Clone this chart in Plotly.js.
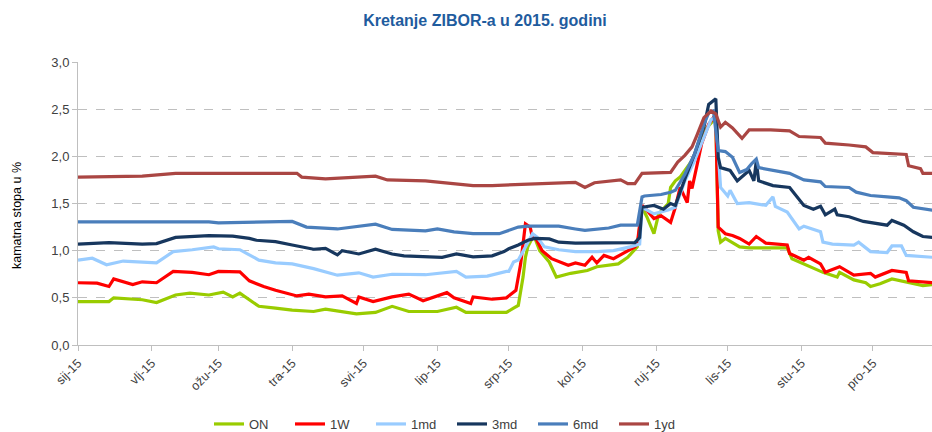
<!DOCTYPE html>
<html>
<head>
<meta charset="utf-8">
<script src="https://cdn.plot.ly/plotly-3.0.1.min.js"></script>
<style>html,body{margin:0;padding:0;background:#fff;}#chart{width:932px;height:432px;}</style>
</head>
<body>
<div id="chart"></div>
<script>
// ---- data ----
var seriesNames = ['ON', '1W', '1md', '3md', '6md', '1yd'];
var monthTicks = ['2015-01-01','2015-02-01','2015-03-01','2015-04-01','2015-05-01','2015-06-01','2015-07-01','2015-08-01','2015-09-01','2015-10-01','2015-11-01','2015-12-01'];
var monthLabels = ['sij-15','vlj-15','ožu-15','tra-15','svi-15','lip-15','srp-15','kol-15','ruj-15','lis-15','stu-15','pro-15'];

var onDates = ['2015-01-01','2015-01-07','2015-01-14','2015-01-16','2015-01-28','2015-02-03','2015-02-11','2015-02-17','2015-02-25','2015-03-03','2015-03-07','2015-03-10','2015-03-18','2015-03-25','2015-04-01','2015-04-10','2015-04-15','2015-04-28','2015-05-06','2015-05-13','2015-05-20','2015-06-01','2015-06-09','2015-06-13','2015-06-30','2015-07-03','2015-07-05','2015-07-07','2015-07-08','2015-07-09','2015-07-11','2015-07-12','2015-07-14','2015-07-18','2015-07-21','2015-07-27','2015-08-03','2015-08-07','2015-08-16','2015-08-20','2015-08-24','2015-08-26','2015-08-28','2015-08-31','2015-09-02','2015-09-06','2015-09-07','2015-09-09','2015-09-11','2015-09-17','2015-09-21','2015-09-25','2015-09-26','2015-09-27','2015-09-28','2015-09-30','2015-10-06','2015-10-10','2015-10-26','2015-10-28','2015-11-02','2015-11-10','2015-11-16','2015-11-17','2015-11-23','2015-11-28','2015-11-30','2015-12-04','2015-12-09','2015-12-15','2015-12-22','2015-12-26'];
var onVals = [0.46,0.46,0.46,0.50,0.48,0.45,0.53,0.55,0.53,0.56,0.51,0.55,0.41,0.39,0.37,0.355,0.38,0.33,0.345,0.41,0.355,0.355,0.40,0.345,0.345,0.39,0.42,0.72,0.93,1.04,1.14,1.13,1.00,0.88,0.72,0.76,0.79,0.83,0.86,0.93,1.04,1.46,1.36,1.18,1.39,1.50,1.67,1.74,1.78,1.99,2.27,2.38,2.38,1.21,1.09,1.13,1.04,1.03,1.03,0.915,0.86,0.77,0.72,0.77,0.69,0.66,0.62,0.65,0.70,0.67,0.63,0.64];

var w1Dates = ['2015-01-01','2015-01-09','2015-01-14','2015-01-16','2015-01-24','2015-01-28','2015-02-03','2015-02-10','2015-02-18','2015-02-25','2015-03-01','2015-03-10','2015-03-14','2015-03-20','2015-03-25','2015-04-03','2015-04-08','2015-04-15','2015-04-22','2015-04-28','2015-04-29','2015-05-05','2015-05-13','2015-05-20','2015-05-26','2015-06-05','2015-06-08','2015-06-15','2015-06-16','2015-06-24','2015-06-30','2015-07-04','2015-07-06','2015-07-08','2015-07-10','2015-07-11','2015-07-12','2015-07-15','2015-07-19','2015-07-26','2015-07-29','2015-08-02','2015-08-05','2015-08-07','2015-08-10','2015-08-14','2015-08-19','2015-08-23','2015-08-24','2015-08-26','2015-08-28','2015-08-31','2015-09-03','2015-09-07','2015-09-09','2015-09-11','2015-09-14','2015-09-15','2015-09-16','2015-09-20','2015-09-23','2015-09-25','2015-09-26','2015-09-27','2015-09-30','2015-10-03','2015-10-06','2015-10-10','2015-10-13','2015-10-17','2015-10-26','2015-10-27','2015-11-02','2015-11-04','2015-11-09','2015-11-11','2015-11-17','2015-11-23','2015-11-30','2015-12-02','2015-12-09','2015-12-15','2015-12-16','2015-12-26'];
var w1Vals = [0.66,0.655,0.62,0.70,0.64,0.67,0.66,0.78,0.77,0.745,0.78,0.775,0.68,0.62,0.58,0.52,0.54,0.51,0.52,0.44,0.51,0.46,0.51,0.54,0.47,0.555,0.50,0.44,0.51,0.485,0.50,0.58,0.86,1.285,1.25,1.13,1.15,1.00,0.915,0.845,0.87,0.845,0.93,0.87,0.95,0.915,0.985,1.04,1.07,1.48,1.43,1.34,1.37,1.30,1.46,1.67,1.51,1.74,1.66,2.13,2.34,2.41,2.36,1.25,1.18,1.16,1.13,1.07,1.15,1.08,1.06,0.97,0.90,0.93,0.86,0.77,0.83,0.74,0.76,0.72,0.79,0.77,0.68,0.66];

var m1Dates = ['2015-01-01','2015-01-07','2015-01-13','2015-01-20','2015-02-03','2015-02-10','2015-02-18','2015-02-27','2015-03-01','2015-03-10','2015-03-18','2015-03-25','2015-04-01','2015-04-10','2015-04-20','2015-04-29','2015-05-05','2015-05-13','2015-05-27','2015-06-09','2015-06-13','2015-06-22','2015-06-30','2015-07-01','2015-07-03','2015-07-05','2015-07-08','2015-07-11','2015-07-13','2015-07-16','2015-07-22','2015-07-29','2015-08-07','2015-08-14','2015-08-21','2015-08-25','2015-08-26','2015-08-31','2015-09-06','2015-09-09','2015-09-13','2015-09-17','2015-09-21','2015-09-24','2015-09-26','2015-09-28','2015-09-29','2015-10-01','2015-10-02','2015-10-05','2015-10-10','2015-10-17','2015-10-20','2015-10-21','2015-10-26','2015-10-31','2015-11-02','2015-11-09','2015-11-10','2015-11-14','2015-11-23','2015-11-25','2015-11-30','2015-12-07','2015-12-09','2015-12-13','2015-12-15','2015-12-26'];
var m1Vals = [0.90,0.92,0.85,0.89,0.87,0.99,1.01,1.04,1.02,1.01,0.90,0.87,0.86,0.81,0.74,0.765,0.72,0.75,0.745,0.78,0.72,0.73,0.78,0.78,0.88,0.90,1.04,1.18,1.14,1.04,1.01,0.99,0.99,1.00,1.04,1.07,1.46,1.39,1.43,1.46,1.74,1.95,2.20,2.39,2.41,1.67,1.64,1.58,1.64,1.50,1.51,1.48,1.57,1.47,1.41,1.23,1.26,1.20,1.09,1.07,1.06,1.09,0.99,0.98,1.05,1.05,0.95,0.93];

var m3Dates = ['2015-01-01','2015-01-14','2015-01-28','2015-02-03','2015-02-11','2015-02-25','2015-03-07','2015-03-14','2015-03-17','2015-03-25','2015-04-01','2015-04-10','2015-04-15','2015-04-20','2015-04-22','2015-04-29','2015-05-06','2015-05-13','2015-05-18','2015-06-03','2015-06-09','2015-06-16','2015-06-24','2015-06-29','2015-07-01','2015-07-05','2015-07-09','2015-07-12','2015-07-18','2015-07-22','2015-07-29','2015-08-12','2015-08-23','2015-08-25','2015-08-26','2015-08-31','2015-09-04','2015-09-07','2015-09-09','2015-09-13','2015-09-17','2015-09-21','2015-09-23','2015-09-26','2015-09-27','2015-09-28','2015-10-02','2015-10-05','2015-10-07','2015-10-10','2015-10-12','2015-10-13','2015-10-14','2015-10-20','2015-10-27','2015-11-02','2015-11-06','2015-11-09','2015-11-11','2015-11-15','2015-11-16','2015-11-21','2015-11-27','2015-12-07','2015-12-09','2015-12-14','2015-12-18','2015-12-22','2015-12-26'];
var m3Vals = [1.07,1.085,1.07,1.075,1.14,1.16,1.155,1.13,1.11,1.095,1.06,1.015,1.025,0.955,1.00,0.965,1.015,0.965,0.945,0.93,0.965,0.935,0.945,0.99,1.02,1.06,1.11,1.13,1.125,1.09,1.08,1.08,1.085,1.14,1.46,1.48,1.44,1.50,1.48,1.76,2.02,2.31,2.55,2.61,1.99,1.88,1.85,1.74,1.78,1.85,1.74,1.95,1.74,1.69,1.67,1.48,1.44,1.47,1.38,1.44,1.38,1.36,1.31,1.27,1.32,1.27,1.20,1.15,1.14];

var m6Dates = ['2015-01-01','2015-02-25','2015-03-01','2015-04-01','2015-04-07','2015-04-20','2015-05-06','2015-05-13','2015-05-27','2015-06-01','2015-06-08','2015-06-16','2015-06-27','2015-07-01','2015-07-05','2015-07-09','2015-07-22','2015-07-29','2015-08-02','2015-08-12','2015-08-17','2015-08-24','2015-08-26','2015-08-27','2015-09-03','2015-09-07','2015-09-09','2015-09-13','2015-09-17','2015-09-21','2015-09-23','2015-09-25','2015-09-27','2015-09-30','2015-10-03','2015-10-06','2015-10-09','2015-10-11','2015-10-13','2015-10-14','2015-10-19','2015-10-27','2015-11-02','2015-11-09','2015-11-11','2015-11-21','2015-11-24','2015-11-30','2015-12-07','2015-12-12','2015-12-15','2015-12-18','2015-12-26'];
var m6Vals = [1.305,1.305,1.295,1.31,1.25,1.23,1.28,1.225,1.21,1.23,1.20,1.18,1.18,1.215,1.25,1.26,1.26,1.23,1.215,1.24,1.27,1.27,1.57,1.58,1.595,1.62,1.64,1.81,2.02,2.34,2.46,2.48,2.06,2.05,1.99,1.83,1.86,1.92,1.97,1.88,1.86,1.82,1.75,1.73,1.68,1.67,1.62,1.585,1.57,1.56,1.53,1.46,1.43];

var y1Dates = ['2015-01-01','2015-01-28','2015-02-11','2015-03-25','2015-04-03','2015-04-05','2015-04-15','2015-05-06','2015-05-11','2015-05-27','2015-06-05','2015-06-16','2015-06-24','2015-07-03','2015-07-15','2015-07-29','2015-08-02','2015-08-06','2015-08-17','2015-08-20','2015-08-23','2015-08-26','2015-09-07','2015-09-10','2015-09-13','2015-09-16','2015-09-18','2015-09-21','2015-09-24','2015-09-26','2015-09-28','2015-09-30','2015-10-03','2015-10-07','2015-10-10','2015-10-19','2015-10-27','2015-10-31','2015-11-09','2015-11-11','2015-11-21','2015-11-28','2015-12-01','2015-12-15','2015-12-16','2015-12-21','2015-12-22','2015-12-26'];
var y1Vals = [1.78,1.79,1.82,1.82,1.82,1.78,1.76,1.79,1.75,1.74,1.72,1.69,1.69,1.70,1.71,1.725,1.67,1.72,1.75,1.71,1.71,1.82,1.83,1.94,2.01,2.10,2.22,2.41,2.48,2.45,2.31,2.36,2.30,2.19,2.28,2.28,2.27,2.21,2.20,2.14,2.12,2.10,2.04,2.02,1.90,1.87,1.82,1.82];

var yTickVals = [0, 0.5, 1, 1.5, 2, 2.5, 3];

// ---- chart ----
var colors = ['#99CC00', '#FF0000', '#99CCFF', '#17375E', '#4A7EBB', '#AA4643'];
var xs = [onDates, w1Dates, m1Dates, m3Dates, m6Dates, y1Dates];
var ys = [onVals, w1Vals, m1Vals, m3Vals, m6Vals, y1Vals];
var font = 'Liberation Sans, Arial, sans-serif';

var traces = seriesNames.map(function (n, i) {
  return {
    type: 'scatter', mode: 'lines', name: n,
    x: xs[i], y: ys[i],
    line: {color: colors[i], width: 3.2}
  };
});

var layout = {
  width: 932, height: 432,
  margin: {l: 78, r: 0, t: 62, b: 87},
  paper_bgcolor: '#fff', plot_bgcolor: '#fff',
  separators: ',.',
  font: {family: font, size: 13, color: '#404040'},
  title: {
    text: '<b>Kretanje ZIBOR-a u 2015. godini</b>',
    font: {family: font, size: 16, color: '#1F5C9E'},
    x: 485 / 932, xref: 'container', xanchor: 'center',
    y: 1 - 20 / 432, yref: 'container', yanchor: 'middle'
  },
  xaxis: {
    type: 'date',
    range: ['2015-01-01', '2015-12-25 20:00'],
    tickvals: monthTicks, ticktext: monthLabels,
    tickangle: -45,
    tickfont: {family: font, size: 12.5, color: '#404040'},
    ticks: 'outside', ticklen: 5, tickcolor: '#BFBFBF',
    showgrid: false, zeroline: false,
    showline: true, linecolor: '#BFBFBF', linewidth: 1
  },
  yaxis: {
    range: [0, 3],
    tickvals: yTickVals, tickformat: '.1f',
    tickfont: {family: font, size: 13, color: '#404040'},
    ticks: 'outside', ticklen: 5, tickcolor: '#BFBFBF',
    showgrid: true, gridcolor: '#BFBFBF', griddash: 'dash', gridwidth: 1,
    zeroline: false,
    showline: true, linecolor: '#BFBFBF', linewidth: 1
  },
  annotations: [{
    text: 'kamatna stopa u %', textangle: -90,
    xref: 'paper', yref: 'paper',
    x: (17 - 78) / 854, y: (345 - 216) / 283,
    xanchor: 'center', yanchor: 'middle',
    showarrow: false,
    font: {family: font, size: 12.5, color: '#000'}
  }],
  legend: {
    orientation: 'h',
    xref: 'container', yref: 'container',
    x: 452 / 932, xanchor: 'center',
    y: 8 / 432, yanchor: 'middle',
    entrywidth: 36, entrywidthmode: 'pixels',
    font: {family: font, size: 13, color: '#404040'},
    bgcolor: 'rgba(0,0,0,0)'
  },
  showlegend: true
};

Plotly.newPlot('chart', traces, layout, {displayModeBar: false, staticPlot: true});
</script>
</body>
</html>
